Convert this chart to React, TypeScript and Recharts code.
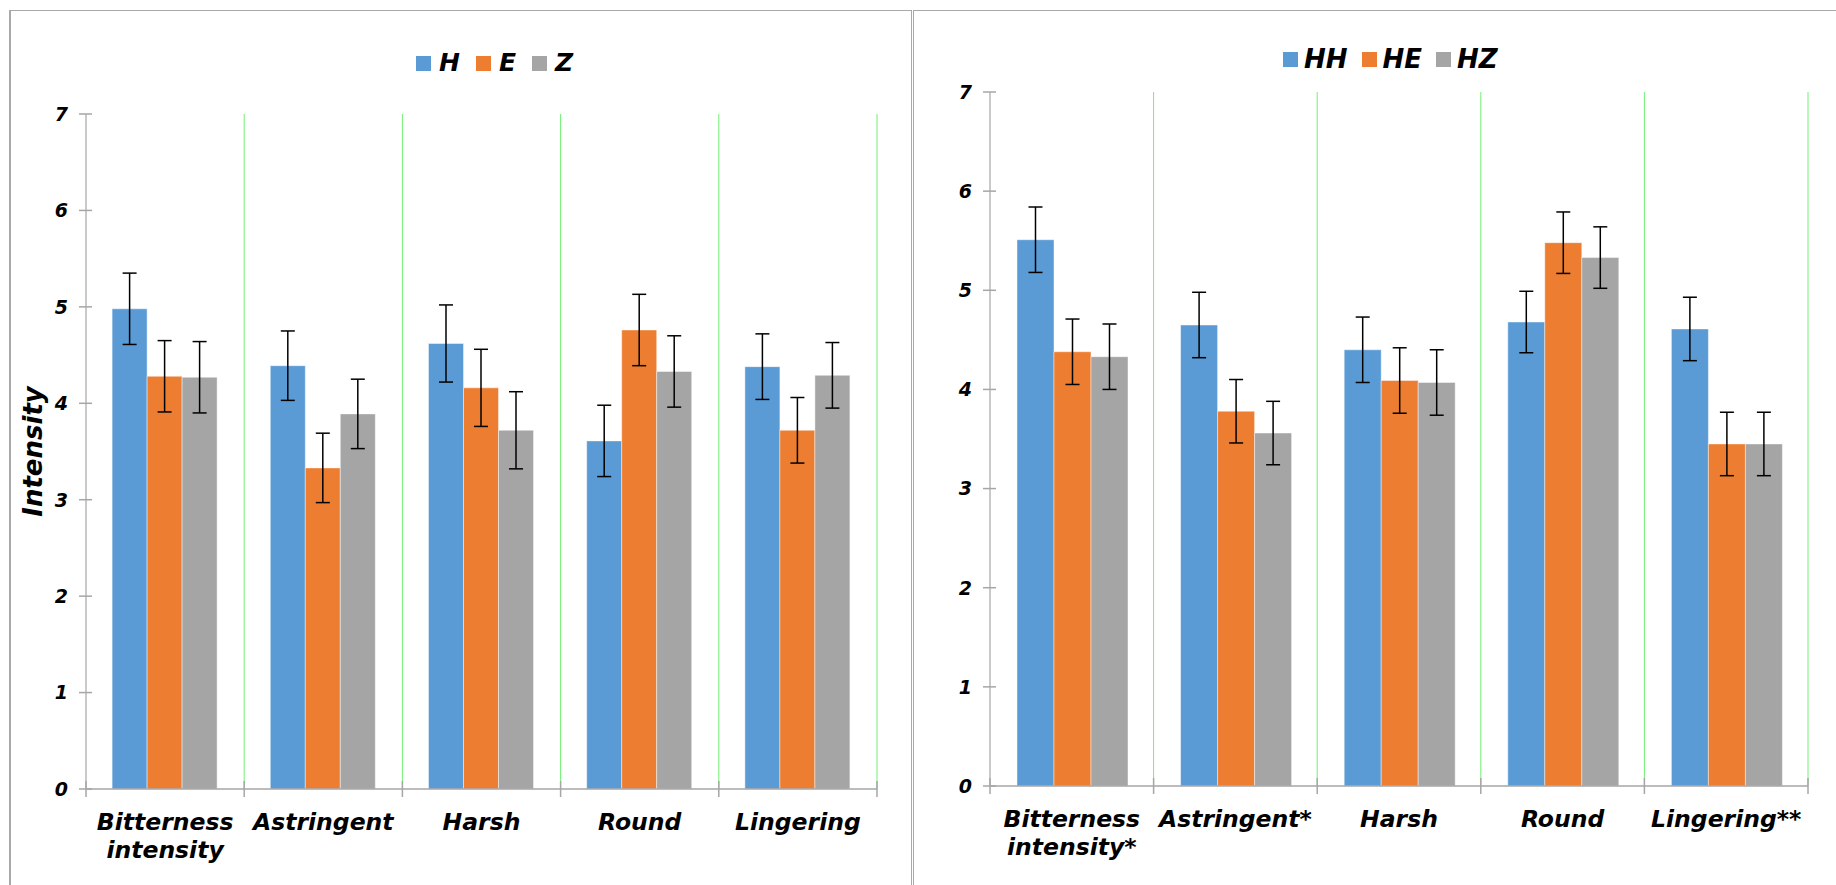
import {
  Bar,
  BarChart,
  CartesianGrid,
  ErrorBar,
  Legend,
  Text,
  XAxis,
  YAxis,
} from "recharts";

const FONT = '"DejaVu Sans", Verdana, sans-serif';
const AXIS = "#a6a6a6";
const GRID = "#72f072";
const COLORS = ["#5B9BD5", "#ED7D31", "#A5A5A5"];
const Y_AXIS_W = 60;
const X_AXIS_H = 70;

const leftCategories = ["Bitterness intensity", "Astringent", "Harsh", "Round", "Lingering"];
const leftNames = ["H", "E", "Z"];
const leftH = [4.98, 4.39, 4.62, 3.61, 4.38];
const leftE = [4.28, 3.33, 4.16, 4.76, 3.72];
const leftZ = [4.27, 3.89, 3.72, 4.33, 4.29];
const leftHErr = [0.37, 0.36, 0.4, 0.37, 0.34];
const leftEErr = [0.37, 0.36, 0.4, 0.37, 0.34];
const leftZErr = [0.37, 0.36, 0.4, 0.37, 0.34];

const rightCategories = ["Bitterness intensity*", "Astringent*", "Harsh", "Round", "Lingering**"];
const rightNames = ["HH", "HE", "HZ"];
const rightHH = [5.51, 4.65, 4.4, 4.68, 4.61];
const rightHE = [4.38, 3.78, 4.09, 5.48, 3.45];
const rightHZ = [4.33, 3.56, 4.07, 5.33, 3.45];
const rightHHErr = [0.33, 0.33, 0.33, 0.31, 0.32];
const rightHEErr = [0.33, 0.32, 0.33, 0.31, 0.32];
const rightHZErr = [0.33, 0.32, 0.33, 0.31, 0.32];

const yTicks = [0, 1, 2, 3, 4, 5, 6, 7];

const bold = {
  fontFamily: FONT,
  fontWeight: 700,
  fontStyle: "italic" as const,
  fill: "#000",
};

type Margin = { top: number; right: number; bottom: number; left: number };

type PanelProps = {
  left: number;
  width: number;
  margin: Margin;
  categories: string[];
  names: string[];
  values: number[][];
  errors: number[][];
  legendLeft: number;
  legendTop: number;
  legendSize: number;
  swatchGap: number;
  itemGap: number;
  yTitle?: string;
};

function ValueTick({ x, y, payload }: any) {
  return (
    <g>
      <line x1={x - 7} x2={x + 6} y1={y} y2={y} stroke={AXIS} strokeWidth={1.5} />
      <text x={x - 18} y={y} dy="0.36em" textAnchor="end" style={bold} fontSize={19}>
        {payload.value}
      </text>
    </g>
  );
}

function CategoryTick({ x, y, payload, index, band, count }: any) {
  const half = band / 2;
  return (
    <g>
      <line x1={x - half} x2={x - half} y1={y - 8} y2={y + 8} stroke={AXIS} strokeWidth={1.5} />
      {index === count - 1 && (
        <line x1={x + half} x2={x + half} y1={y - 8} y2={y + 8} stroke={AXIS} strokeWidth={1.5} />
      )}
      <Text
        x={x}
        y={y + 24}
        width={band - 2}
        textAnchor="middle"
        verticalAnchor="start"
        lineHeight={28}
        style={{ ...bold, fontSize: 23.5 }}
      >
        {payload.value}
      </Text>
    </g>
  );
}

function Panel(p: PanelProps) {
  const height = 885;
  const data = p.categories.map((name, i) => ({
    name,
    s0: p.values[0][i],
    s1: p.values[1][i],
    s2: p.values[2][i],
    e0: p.errors[0][i],
    e1: p.errors[1][i],
    e2: p.errors[2][i],
  }));
  const plotW = p.width - p.margin.left - p.margin.right - Y_AXIS_W;
  const band = plotW / p.categories.length;

  const renderLegend = (props: any) => {
    const items = [...(props.payload || [])].sort(
      (a: any, b: any) => p.names.indexOf(a.value) - p.names.indexOf(b.value)
    );
    return (
      <div style={{ display: "flex", alignItems: "center" }}>
        {items.map((item: any) => (
          <span
            key={item.value}
            style={{ display: "flex", alignItems: "center", marginRight: p.itemGap }}
          >
            <span
              style={{
                display: "inline-block",
                width: 15,
                height: 15,
                background: item.color,
                marginRight: p.swatchGap,
              }}
            />
            <span
              style={{
                fontFamily: FONT,
                fontWeight: 700,
                fontStyle: "italic",
                fontSize: p.legendSize,
                lineHeight: "30px",
                color: "#000",
              }}
            >
              {item.value}
            </span>
          </span>
        ))}
      </div>
    );
  };

  const renderTitle = (props: any) => {
    const vb = props.viewBox || {};
    const cx = vb.x + 7;
    const cy = vb.y + vb.height / 2;
    return (
      <text
        x={cx}
        y={cy}
        transform={`rotate(-90, ${cx}, ${cy})`}
        textAnchor="middle"
        dominantBaseline="central"
        style={bold}
        fontSize={26}
      >
        {p.yTitle}
      </text>
    );
  };

  return (
    <div style={{ position: "absolute", left: p.left, top: 0 }}>
      <BarChart
        width={p.width}
        height={height}
        data={data}
        margin={p.margin}
        barCategoryGap="16.5%"
        barGap={0}
      >
        <CartesianGrid
          horizontal={false}
          stroke={GRID}
          strokeWidth={1}
          verticalCoordinatesGenerator={({ offset }: any) =>
            p.categories.map((_, i) => offset.left + ((i + 1) * offset.width) / p.categories.length)
          }
        />
        <XAxis
          dataKey="name"
          height={X_AXIS_H}
          interval={0}
          tickSize={0}
          tickMargin={0}
          tickLine={false}
          axisLine={{ stroke: AXIS, strokeWidth: 1.5 }}
          tick={(t: any) => <CategoryTick {...t} band={band} count={p.categories.length} />}
        />
        <YAxis
          width={Y_AXIS_W}
          domain={[0, 7]}
          ticks={yTicks}
          interval={0}
          tickSize={0}
          tickMargin={0}
          tickLine={false}
          axisLine={{ stroke: AXIS, strokeWidth: 1.2 }}
          tick={(t: any) => <ValueTick {...t} />}
          label={p.yTitle ? { content: renderTitle } : undefined}
        />
        <Legend
          layout="horizontal"
          verticalAlign="middle"
          align="center"
          content={renderLegend}
          wrapperStyle={{ top: p.legendTop, left: p.legendLeft, width: "auto", height: "auto" }}
        />
        {[0, 1, 2].map((k) => (
          <Bar
            key={k}
            dataKey={`s${k}`}
            name={p.names[k]}
            fill={COLORS[k]}
            stroke="rgba(255,255,255,0.55)"
            strokeWidth={0.8}
            isAnimationActive={false}
          >
            <ErrorBar dataKey={`e${k}`} width={7} stroke="#000" strokeWidth={1.5} />
          </Bar>
        ))}
      </BarChart>
    </div>
  );
}

export default function App() {
  return (
    <div
      style={{
        position: "absolute",
        left: 0,
        top: 0,
        width: 1836,
        height: 885,
        background: "#fff",
        overflow: "hidden",
      }}
    >
      <div
        style={{
          position: "absolute",
          left: 9,
          top: 10,
          width: 900,
          height: 900,
          borderLeft: "2px solid #a9a9a9",
          borderTop: "1.5px solid #a9a9a9",
          borderRight: "1.5px solid #a9a9a9",
        }}
      />
      <div
        style={{
          position: "absolute",
          left: 913,
          top: 10,
          width: 1000,
          height: 900,
          borderLeft: "1.5px solid #a9a9a9",
          borderTop: "1.5px solid #a9a9a9",
        }}
      />
      <Panel
        left={0}
        width={911}
        margin={{ top: 114, right: 34, bottom: 885 - 789 - X_AXIS_H, left: 86 - Y_AXIS_W }}
        categories={leftCategories}
        names={leftNames}
        values={[leftH, leftE, leftZ]}
        errors={[leftHErr, leftEErr, leftZErr]}
        legendLeft={416}
        legendTop={48}
        legendSize={25}
        swatchGap={8}
        itemGap={16}
        yTitle="Intensity"
      />
      <Panel
        left={911}
        width={925}
        margin={{ top: 92, right: 28, bottom: 885 - 786 - X_AXIS_H, left: 79 - Y_AXIS_W }}
        categories={rightCategories}
        names={rightNames}
        values={[rightHH, rightHE, rightHZ]}
        errors={[rightHHErr, rightHEErr, rightHZErr]}
        legendLeft={372}
        legendTop={44}
        legendSize={26}
        swatchGap={6}
        itemGap={14}
      />
    </div>
  );
}
